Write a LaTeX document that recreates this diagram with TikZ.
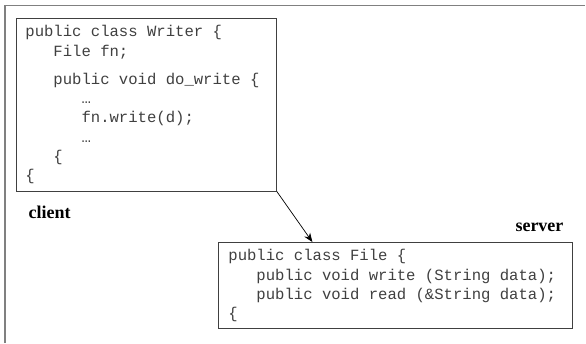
\documentclass[tikz,border=0pt]{standalone}
\usepackage{fontspec}
\setmainfont{Liberation Serif}
\setmonofont{Liberation Mono}
\usetikzlibrary{positioning,arrows.meta,calc}
\definecolor{frgray}{RGB}{128,128,128}
\definecolor{bxdark}{RGB}{64,64,64}
\newcommand{\ind}{\hspace*{1.8em}}
\newcommand{\monospaces}{\spaceskip=0.6em\relax}
\tikzset{
  frame/.style={draw=frgray, line width=1.6pt},
  codebox/.style={draw=bxdark, line width=0.8pt, fill=white, anchor=north west,
                  font=\fontsize{15.6}{19.3}\selectfont\ttfamily,
                  execute at begin node=\monospaces,
                  text=bxdark, align=left, inner xsep=9pt, inner ysep=7pt},
  side/.style={font=\fontsize{18}{20}\selectfont\bfseries, text=black},
  flow/.style={-{Stealth[length=9pt,width=7pt]}, draw=black, line width=0.7pt},
}
\begin{document}
\begin{tikzpicture}[x=1pt, y=-1pt]
\useasboundingbox (0,0) rectangle (586,343);

% outer frame, only top and left edge shown
\draw[frame] (5,343) -- (5,5.5) -- (585,5.5);

% client side
\node[codebox, minimum width=260pt, text width=242pt] (writer) at (16,18)
  {public class Writer \{\\
   \ind File fn;\\[9pt]
   \ind public void do\_write \{\\
   \ind\ind …\\
   \ind\ind fn.write(d);\\
   \ind\ind …\\
   \ind \{\\
   \{};
\node[side, anchor=base west] (client) at (25,218) {client};

% server side
\node[codebox, minimum width=354pt, text width=334pt, inner xsep=10pt] (file) at (218,242)
  {public class File \{\\
   \ind public void write (String data);\\
   \ind public void read (\&String data);\\
   \{};
\node[side, anchor=base east] (server) at (567,231.5) {server};

% call goes from writer to file
\draw[flow] (writer.south east) -- ($(file.north west)!0.266!(file.north east)$);
\end{tikzpicture}
\end{document}
